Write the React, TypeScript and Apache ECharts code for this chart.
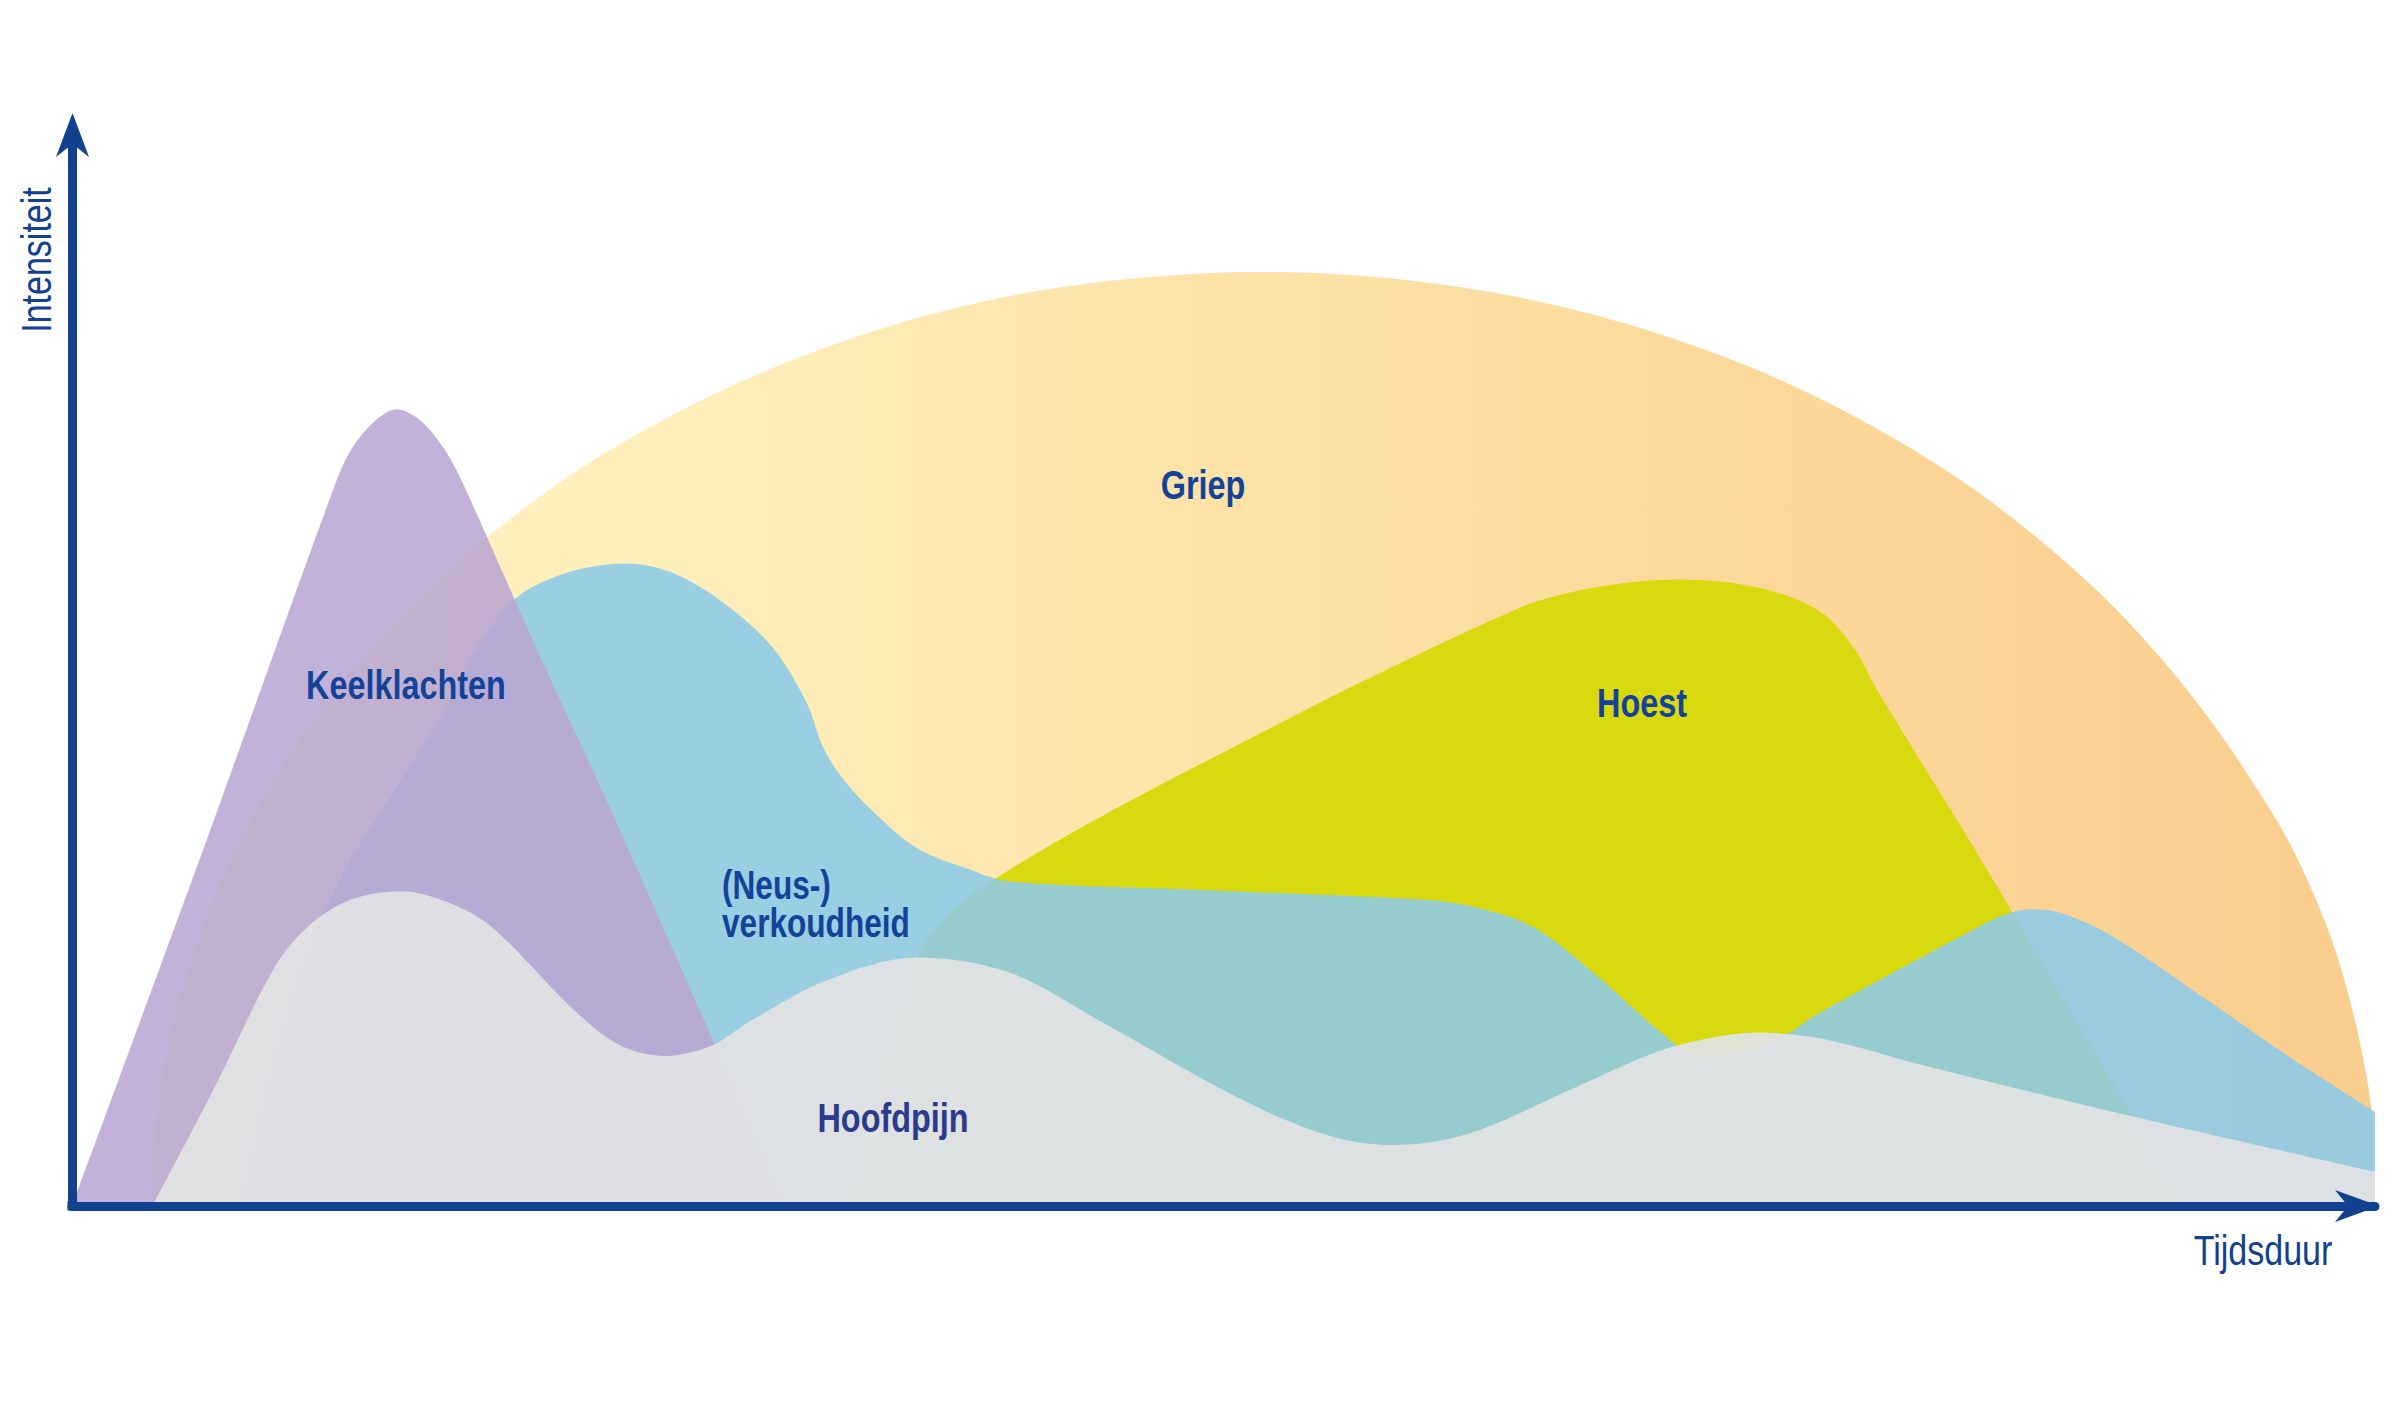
import React, { useEffect, useRef } from "react";
import * as echarts from "echarts";

// ---- data (x: time 0..100, y: intensity 0..100) ----
const griep: [number, number][] = [
  [3.47, 0], [3.56, 5.23], [3.73, 9.06], [4.04, 13.31], [4.47, 17.65], [5.12, 22.6],
  [5.99, 27.82], [7.08, 33.05], [8.38, 38.38], [9.9, 43.51], [12.07, 49.67], [14.24, 54.9],
  [16.85, 60.32], [19.89, 65.55], [22.93, 70.03], [27.27, 75.16], [31.61, 79.27],
  [35.95, 82.45], [40.3, 84.78], [44.64, 86.27], [48.98, 87.07], [51.67, 87.21],
  [55.49, 86.93], [59.83, 85.95], [64.18, 84.22], [68.52, 81.7], [72.86, 78.34],
  [77.2, 73.95], [81.55, 68.44], [85.02, 62.93], [88.06, 57.19], [90.66, 51.26],
  [92.84, 45.38], [94.57, 39.96], [96.4, 33.43], [98.05, 25.3], [99.04, 18.11],
  [99.7, 11.3], [99.9, 8.0],
];
const hoest: [number, number][] = [
  [33.5, 0], [36.7, 23.2], [39.7, 30.0], [51.2, 43.7], [62.7, 55.7], [66.0, 57.7],
  [69.8, 58.5], [73.3, 57.7], [75.9, 55.5], [77.4, 52.0], [78.4, 48.1], [82.9, 32.3],
  [89.5, 8.3], [91.8, 0],
];
const neus: [number, number][] = [
  [7.3, 0], [9.5, 19.2], [11.6, 30.4], [14.0, 38.8], [16.0, 45.7], [17.4, 51.5], [19.3, 56.8],
  [21.6, 59.2], [24.1, 60.0], [26.1, 59.1], [28.3, 56.3], [30.4, 52.2], [31.9, 47.0],
  [32.6, 42.9], [33.4, 40.1], [34.7, 37.0], [36.7, 33.4], [39.0, 31.4], [40.7, 30.3],
  [49.0, 29.5], [58.7, 28.6], [60.7, 28.0], [63.4, 26.1], [66.0, 21.9], [69.0, 16.2],
  [70.7, 13.9], [72.6, 14.4], [74.6, 16.2], [75.6, 17.7], [82.9, 26.2], [84.2, 27.4],
  [85.3, 27.7], [86.6, 27.2], [88.5, 25.3], [92.4, 19.7], [96.3, 13.9], [99.7, 9.2], [100, 8.8],
];
const keel: [number, number][] = [
  [0, 0], [5.8, 33.9], [11.5, 67.8], [12.2, 70.9], [13.2, 73.4], [14.1, 74.4], [15.1, 73.4],
  [16.1, 70.9], [16.9, 67.8], [20.2, 51.9], [23.6, 36.0], [31.0, 0],
];
const hoofd: [number, number][] = [
  [3.5, 0], [6.2, 11.1], [8.8, 22.3], [10.3, 26.2], [12.1, 28.6], [14.3, 29.4], [16.4, 28.3],
  [18.2, 26.1], [21.8, 18.3], [23.8, 15.0], [25.8, 14.0], [27.8, 15.0], [29.4, 17.2],
  [32.8, 21.1], [36.7, 23.2], [40.7, 21.8], [44.7, 17.2], [51.0, 9.7], [54.7, 6.5],
  [57.4, 5.7], [60.7, 6.8], [65.0, 10.8], [68.7, 14.3], [70.7, 15.5], [73.2, 16.2],
  [75.5, 15.8], [77.6, 14.8], [79.9, 13.4], [90.0, 8.1], [100, 3.2],
];

const seriesNames = ["Griep", "Hoest", "(Neus-)\nverkoudheid", "Keelklachten", "Hoofdpijn"];
const axisNames = ["Tijdsduur", "Intensiteit"];

const AXIS = "#11418f";
const TXT = "#13429a";
const FONT = '"Liberation Sans", Arial, sans-serif';
const NARROW = 0.79;

export default function App() {
  const ref = useRef<HTMLDivElement>(null);
  useEffect(() => {
    if (!ref.current) return;
    const chart = echarts.init(ref.current, null, { renderer: "svg" });
    const area = (name: string, data: [number, number][], color: any, smooth = 0.33) => ({
      name,
      type: "line",
      data,
      smooth,
      symbol: "none",
      showSymbol: false,
      silent: true,
      lineStyle: { opacity: 0, width: 0 },
      areaStyle: { color, opacity: 1 },
      z: 2,
    });
    const griepGrad = new echarts.graphic.LinearGradient(0, 0, 1, 0, [
      { offset: 0, color: "#fff4c4" },
      { offset: 0.27, color: "#feedb8" },
      { offset: 0.47, color: "#fde3a8" },
      { offset: 0.75, color: "#fbd799" },
      { offset: 1, color: "#f9cd8e" },
    ]);
    const label = (text: string, x: number, y: number, color = TXT, extra: any = {}, scaleX = NARROW) => ({
      type: "text",
      x,
      y,
      scaleX,
      z: 30,
      silent: true,
      style: {
        text,
        fill: color,
        fontSize: 41,
        fontWeight: "bold",
        fontFamily: FONT,
        textAlign: "center",
        textVerticalAlign: "middle",
        align: "center",
        verticalAlign: "middle",
        ...extra,
      },
    });
    chart.setOption({
      animation: false,
      backgroundColor: "#ffffff",
      grid: { left: 72, right: 25, top: 135, bottom: 211 },
      xAxis: {
        type: "value",
        min: 0,
        max: 100,
        z: 10,
        axisLine: { show: true, onZero: false, lineStyle: { color: AXIS, width: 9 } },
        axisTick: { show: false },
        axisLabel: { show: false },
        splitLine: { show: false },
      },
      yAxis: {
        type: "value",
        min: 0,
        max: 100,
        z: 10,
        axisLine: { show: true, onZero: false, lineStyle: { color: AXIS, width: 9 } },
        axisTick: { show: false },
        axisLabel: { show: false },
        splitLine: { show: false },
      },
      series: [
        area(seriesNames[0], griep, griepGrad),
        area(seriesNames[1], hoest, "#d8d90f"),
        area(seriesNames[2], neus, "rgba(140,202,232,0.88)"),
        area(seriesNames[3], keel, "rgba(185,165,210,0.87)"),
        area(seriesNames[4], hoofd, "rgba(225,226,227,0.94)"),
      ],
      graphic: [
        {
          type: "polygon",
          z: 20,
          silent: true,
          shape: { points: [[72.5, 113], [89, 157], [72.5, 144], [56, 157]] },
          style: { fill: AXIS },
        },
        {
          type: "polygon",
          z: 20,
          silent: true,
          shape: { points: [[2379, 1206], [2335, 1222], [2348, 1206], [2335, 1190]] },
          style: { fill: AXIS },
        },
        {
          type: "rect",
          z: 20,
          silent: true,
          shape: { x: 67.5, y: 1201.5, width: 9, height: 9 },
          style: { fill: AXIS },
        },
        label(seriesNames[0], 1203, 485),
        label(seriesNames[3], 406, 685),
        label(seriesNames[1], 1642, 703),
        label(seriesNames[2], 722, 866, TXT, {
          textAlign: "left",
          align: "left",
          textVerticalAlign: "top",
          verticalAlign: "top",
          fontSize: 40,
          lineHeight: 38,
        }),
        label(seriesNames[4], 893, 1118, "#2b3a8c"),
        label(axisNames[0], 2263, 1250, AXIS, { fontWeight: "normal", fontSize: 42 }, 0.81),
        {
          type: "text",
          x: 36,
          y: 260,
          rotation: Math.PI / 2,
          scaleX: 0.81,
          z: 30,
          silent: true,
          style: {
            text: axisNames[1],
            fill: AXIS,
            fontSize: 42,
            fontWeight: "normal",
            fontFamily: FONT,
            textAlign: "center",
            textVerticalAlign: "middle",
            align: "center",
            verticalAlign: "middle",
          },
        },
      ],
    });
    return () => chart.dispose();
  }, []);
  return (
    <div
      ref={ref}
      style={{ position: "fixed", left: 0, top: 0, width: 2400, height: 1417, background: "#fff" }}
    />
  );
}
